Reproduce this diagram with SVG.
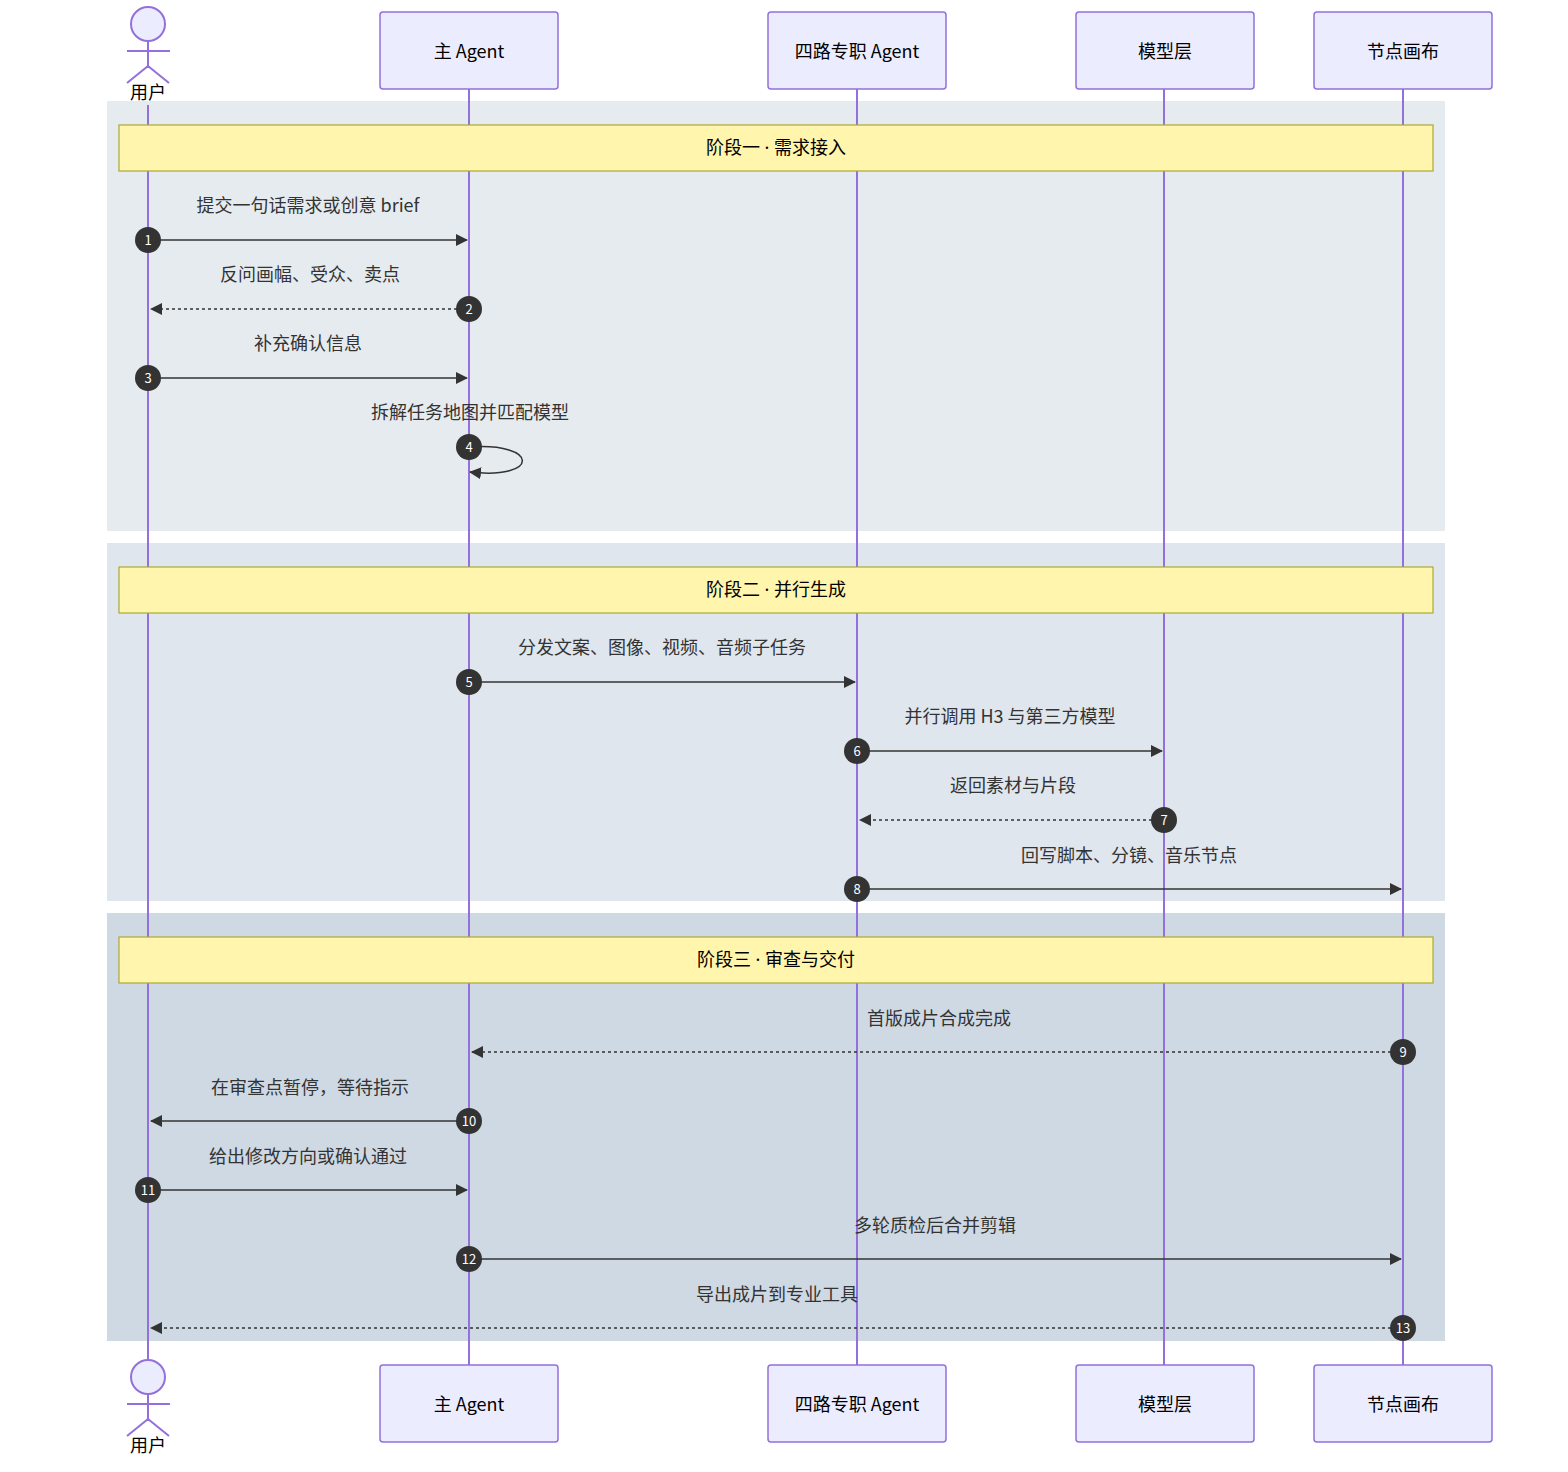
<svg xmlns="http://www.w3.org/2000/svg" width="1568" height="1472" viewBox="0 0 1568 1472">
<style>
text{font-family:"Noto Sans CJK SC","Noto Sans",sans-serif;fill:#333;font-size:18px;text-anchor:middle}
.ph{font-family:"Noto Sans","Noto Sans CJK SC",sans-serif}
.box2{fill:#ececff;stroke:#9370db;stroke-width:1.5}
.life{stroke:#9370db;stroke-width:2}
.note{fill:#fff5ad;stroke:#aaaa33;stroke-width:1.2}
.m{stroke:#333;stroke-width:1.5;fill:none}
.d{stroke-dasharray:3,3}
.n{fill:#333}
.nt{fill:#fff;font-size:13px}
.act{fill:#ececff;stroke:#9370db;stroke-width:2}
.hd{fill:#000}
</style>
<defs>
<marker id="a" markerWidth="12" markerHeight="12" refX="11" refY="6" orient="auto" markerUnits="userSpaceOnUse"><path d="M0,0L12,6L0,12z" fill="#333"/></marker>
</defs>
<rect x="107" y="101" width="1338" height="430" fill="#e6ebf0"/>
<rect x="107" y="543" width="1338" height="358" fill="#dfe6ee"/>
<rect x="107" y="913" width="1338" height="428" fill="#cfd9e3"/>
<g id="lifelines">
<line class="life" x1="148" y1="105" x2="148" y2="1362"/>
<line class="life" x1="469" y1="89" x2="469" y2="1365"/>
<line class="life" x1="857" y1="89" x2="857" y2="1365"/>
<line class="life" x1="1164" y1="89" x2="1164" y2="1365"/>
<line class="life" x1="1403" y1="89" x2="1403" y2="1365"/>
</g>
<g id="notes">
<rect class="note" x="119" y="125" width="1314" height="46"/><text class="hd ph" x="776" y="154">阶段一 · 需求接入</text>
<rect class="note" x="119" y="567" width="1314" height="46"/><text class="hd ph" x="776" y="596">阶段二 · 并行生成</text>
<rect class="note" x="119" y="937" width="1314" height="46"/><text class="hd ph" x="776" y="966">阶段三 · 审查与交付</text>
</g>
<g id="user-top"><circle class="act" cx="148" cy="24" r="17"/><line class="life" x1="148" y1="41" x2="148" y2="68"/><line class="life" x1="127" y1="51" x2="170" y2="51"/><line class="life" x1="148" y1="66" x2="127" y2="83"/><line class="life" x1="148" y1="66" x2="169" y2="83"/><text class="hd" x="148" y="99">用户</text></g>
<g id="user-bottom"><circle class="act" cx="148" cy="1377" r="17"/><line class="life" x1="148" y1="1394" x2="148" y2="1421"/><line class="life" x1="127" y1="1404" x2="170" y2="1404"/><line class="life" x1="148" y1="1419" x2="127" y2="1436"/><line class="life" x1="148" y1="1419" x2="169" y2="1436"/><text class="hd" x="148" y="1452">用户</text></g>
<g id="agent-top"><rect class="box2" x="380" y="12" width="178" height="77" rx="3"/><text class="hd" x="469" y="58">主 Agent</text></g>
<g id="four-top"><rect class="box2" x="768" y="12" width="178" height="77" rx="3"/><text class="hd" x="857" y="58">四路专职 Agent</text></g>
<g id="model-top"><rect class="box2" x="1076" y="12" width="178" height="77" rx="3"/><text class="hd" x="1165" y="58">模型层</text></g>
<g id="canvas-top"><rect class="box2" x="1314" y="12" width="178" height="77" rx="3"/><text class="hd" x="1403" y="58">节点画布</text></g>
<g id="agent-bot"><rect class="box2" x="380" y="1365" width="178" height="77" rx="3"/><text class="hd" x="469" y="1411">主 Agent</text></g>
<g id="four-bot"><rect class="box2" x="768" y="1365" width="178" height="77" rx="3"/><text class="hd" x="857" y="1411">四路专职 Agent</text></g>
<g id="model-bot"><rect class="box2" x="1076" y="1365" width="178" height="77" rx="3"/><text class="hd" x="1165" y="1411">模型层</text></g>
<g id="canvas-bot"><rect class="box2" x="1314" y="1365" width="178" height="77" rx="3"/><text class="hd" x="1403" y="1411">节点画布</text></g>
<g id="connectors">
<line class="m" x1="148" y1="240" x2="467" y2="240" marker-end="url(#a)"/><text x="308" y="212">提交一句话需求或创意 brief</text>
<line class="m d" x1="469" y1="309" x2="151" y2="309" marker-end="url(#a)"/><text x="310" y="281">反问画幅、受众、卖点</text>
<line class="m" x1="148" y1="378" x2="467" y2="378" marker-end="url(#a)"/><text x="308" y="350">补充确认信息</text>
<path class="m" d="M469,447C540,442 540,480 470,472" marker-end="url(#a)"/><text x="470" y="419">拆解任务地图并匹配模型</text>
<line class="m" x1="469" y1="682" x2="855" y2="682" marker-end="url(#a)"/><text x="662" y="654">分发文案、图像、视频、音频子任务</text>
<line class="m" x1="857" y1="751" x2="1162" y2="751" marker-end="url(#a)"/><text x="1010" y="723">并行调用 H3 与第三方模型</text>
<line class="m d" x1="1164" y1="820" x2="860" y2="820" marker-end="url(#a)"/><text x="1013" y="792">返回素材与片段</text>
<line class="m" x1="857" y1="889" x2="1401" y2="889" marker-end="url(#a)"/><text x="1129" y="862">回写脚本、分镜、音乐节点</text>
<line class="m d" x1="1403" y1="1052" x2="472" y2="1052" marker-end="url(#a)"/><text x="939" y="1025">首版成片合成完成</text>
<line class="m" x1="469" y1="1121" x2="151" y2="1121" marker-end="url(#a)"/><text x="310" y="1094">在审查点暂停，等待指示</text>
<line class="m" x1="148" y1="1190" x2="467" y2="1190" marker-end="url(#a)"/><text x="308" y="1163">给出修改方向或确认通过</text>
<line class="m" x1="469" y1="1259" x2="1401" y2="1259" marker-end="url(#a)"/><text x="935" y="1232">多轮质检后合并剪辑</text>
<line class="m d" x1="1403" y1="1328" x2="151" y2="1328" marker-end="url(#a)"/><text x="777" y="1301">导出成片到专业工具</text>
</g>
<g id="numbers">
<circle class="n" cx="148" cy="240" r="13"/><text class="nt" x="148" y="245">1</text>
<circle class="n" cx="469" cy="309" r="13"/><text class="nt" x="469" y="314">2</text>
<circle class="n" cx="148" cy="378" r="13"/><text class="nt" x="148" y="383">3</text>
<circle class="n" cx="469" cy="447" r="13"/><text class="nt" x="469" y="452">4</text>
<circle class="n" cx="469" cy="682" r="13"/><text class="nt" x="469" y="687">5</text>
<circle class="n" cx="857" cy="751" r="13"/><text class="nt" x="857" y="756">6</text>
<circle class="n" cx="1164" cy="820" r="13"/><text class="nt" x="1164" y="825">7</text>
<circle class="n" cx="857" cy="889" r="13"/><text class="nt" x="857" y="894">8</text>
<circle class="n" cx="1403" cy="1052" r="13"/><text class="nt" x="1403" y="1057">9</text>
<circle class="n" cx="469" cy="1121" r="13"/><text class="nt" x="469" y="1126">10</text>
<circle class="n" cx="148" cy="1190" r="13"/><text class="nt" x="148" y="1195">11</text>
<circle class="n" cx="469" cy="1259" r="13"/><text class="nt" x="469" y="1264">12</text>
<circle class="n" cx="1403" cy="1328" r="13"/><text class="nt" x="1403" y="1333">13</text>
</g>
</svg>
